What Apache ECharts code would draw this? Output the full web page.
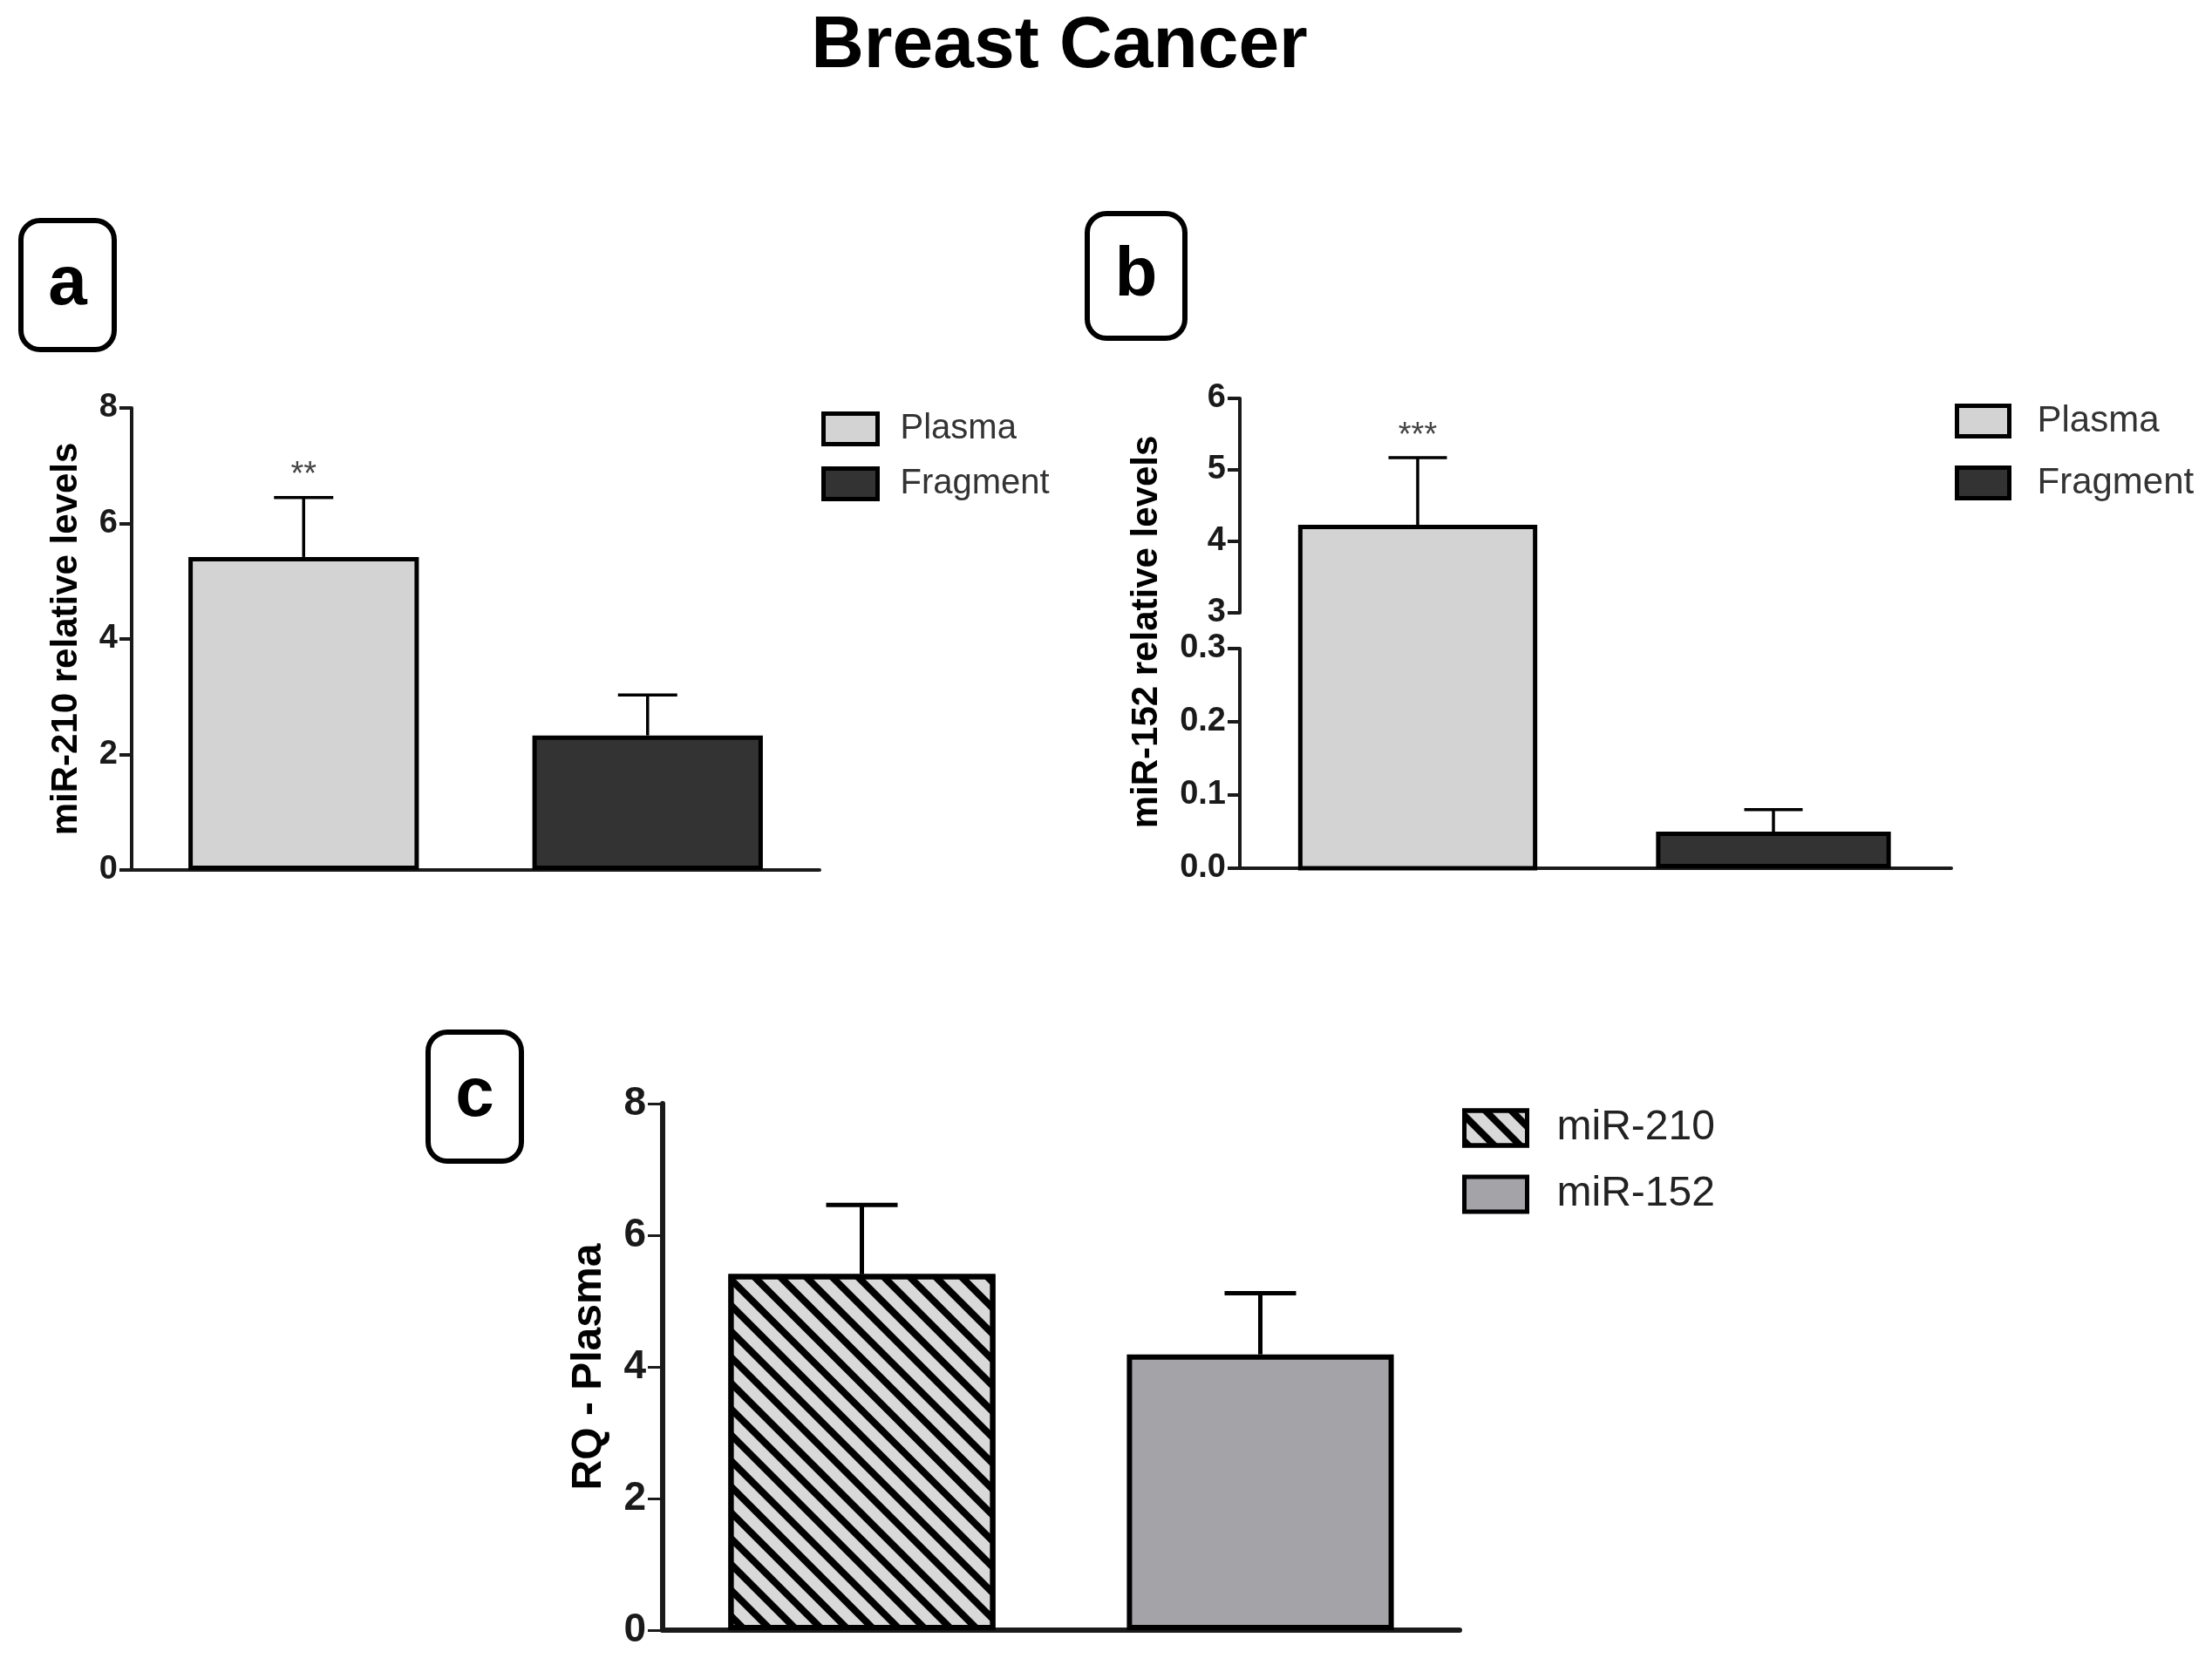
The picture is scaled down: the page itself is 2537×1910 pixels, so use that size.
<!DOCTYPE html>
<html>
<head>
<meta charset="utf-8">
<title>Breast Cancer</title>
<script src="https://cdn.jsdelivr.net/npm/echarts@6/dist/echarts.min.js"></script>
<style>
  html, body { margin: 0; padding: 0; background: #fff; }
  #chart { width: 2537px; height: 1910px; }
</style>
</head>
<body>
<div id="chart"></div>
<script>
'use strict';

// --- panel a: miR-210, plasma vs fragment
var aCategories = ['Plasma', 'Fragment'];
var aMeans = [5.42, 2.33];
var aErrTops = [6.45, 3.03];
var aStars = ['**', ''];
var aTicks = [0, 2, 4, 6, 8];

// --- panel b: miR-152, y axis broken between 0.3 and 3
var bCategories = ['Plasma', 'Fragment'];
var bMeans = [4.2, 0.05];
var bErrTops = [5.17, 0.08];
var bStars = ['***', ''];
var bLowTicks = [0, 0.1, 0.2, 0.3];
var bHighTicks = [3, 4, 5, 6];

// --- panel c: RQ in plasma
var cCategories = ['miR-210', 'miR-152'];
var cMeans = [5.41, 4.19];
var cErrTops = [6.46, 5.12];
var cTicks = [0, 2, 4, 6, 8];

var FONT = '"Liberation Sans", Arial, sans-serif';
var INK = '#1a1a1a';

var seriesColors = {
  'Plasma': '#d3d3d3',
  'Fragment': '#333333',
  'miR-210': '#d9d9d9',
  'miR-152': '#a3a3a8'
};

// diagonal stripes for miR-210
var hatch = {
  symbol: 'rect',
  symbolSize: 1,
  dashArrayX: [1, 0],
  dashArrayY: [8, 13],
  rotation: Math.PI / 4,
  color: '#000'
};

// grid boxes (px)
var gridA = { left: 151, top: 468, width: 789, height: 530 };
var gridBHigh = { left: 1422, top: 457, width: 816, height: 246 };
var gridBLow = { left: 1422, top: 744, width: 816, height: 252 };
var gridC = { left: 760, top: 1266, width: 914, height: 604 };

var chart = echarts.init(document.getElementById('chart'));

function only(values, i) {
  return values.map(function (v, j) { return j === i ? v : '-'; });
}

function valueAxis(gridIndex, ticks, opts) {
  opts = opts || {};
  var lw = opts.lineWidth || 4;
  return {
    type: 'value',
    gridIndex: gridIndex,
    min: ticks[0],
    max: ticks[ticks.length - 1],
    interval: ticks[1] - ticks[0],
    splitLine: { show: false },
    axisLine: { show: true, lineStyle: { color: INK, width: lw } },
    axisTick: { show: true, length: opts.tickLength || 14, lineStyle: { color: INK, width: opts.tickWidth || lw } },
    axisLabel: {
      margin: opts.labelMargin || 16,
      color: INK,
      fontFamily: FONT,
      fontSize: opts.fontSize || 38,
      fontWeight: 'bold',
      formatter: opts.formatter
    },
    name: opts.name || '',
    nameLocation: 'middle',
    nameRotate: 90,
    nameGap: opts.nameGap || 0,
    nameTextStyle: { fontFamily: FONT, fontSize: opts.nameSize || 42, fontWeight: 'bold', color: '#000' }
  };
}

function categoryAxis(gridIndex, cats, opts) {
  opts = opts || {};
  var lw = opts.lineWidth || 4;
  return {
    type: 'category',
    gridIndex: gridIndex,
    data: cats,
    show: opts.show !== false,
    axisLine: { lineStyle: { color: INK, width: lw } },
    axisTick: { alignWithLabel: true, length: opts.tickLength || 16, lineStyle: { color: INK, width: 3 } },
    axisLabel: { show: false }
  };
}

function barSeries(name, axisIdx, values, i, opts) {
  var style = {
    color: seriesColors[name],
    borderColor: '#000',
    borderWidth: opts.borderWidth
  };
  if (opts.decal) style.decal = opts.decal;
  return {
    type: 'bar',
    name: name,
    xAxisIndex: axisIdx,
    yAxisIndex: axisIdx,
    data: only(values, i),
    barWidth: opts.barWidth,
    barGap: '-100%',
    itemStyle: style,
    emphasis: { disabled: true }
  };
}

// bar of the upper segment that runs down through the break to the zero of the lower segment
function brokenBarSeries(name, i) {
  var lowZero = gridBLow.top + gridBLow.height;
  return {
    type: 'custom',
    name: name,
    xAxisIndex: 1,
    yAxisIndex: 1,
    z: 2,
    itemStyle: { color: seriesColors[name] },
    data: [[i, bMeans[i]]],
    renderItem: function (params, api) {
      var x = api.value(0);
      var top = api.coord([x, api.value(1)]);
      var w = api.size([1, 0], [x, api.value(1)])[0] * 0.66;
      return {
        type: 'rect',
        shape: { x: top[0] - w / 2, y: top[1], width: w, height: lowZero - top[1] },
        style: { fill: api.visual('color'), stroke: '#000', lineWidth: 5 }
      };
    }
  };
}

function errorSeries(axisIdx, points, stars, opts) {
  return {
    type: 'custom',
    xAxisIndex: axisIdx,
    yAxisIndex: axisIdx,
    z: 5,
    silent: true,
    data: points,
    renderItem: function (params, api) {
      var x = api.value(0);
      var from = api.coord([x, api.value(1)]);
      var to = api.coord([x, api.value(2)]);
      var half = opts.cap / 2;
      var line = { stroke: '#000', lineWidth: opts.lineWidth };
      return {
        type: 'group',
        children: [
          { type: 'line', shape: { x1: to[0], y1: from[1], x2: to[0], y2: to[1] }, style: line },
          { type: 'line', shape: { x1: to[0] - half, y1: to[1], x2: to[0] + half, y2: to[1] }, style: line },
          {
            type: 'text', x: to[0], y: to[1] - 6,
            style: {
              text: stars[params.dataIndex] || '', fill: '#444', fontFamily: FONT,
              fontSize: 38, align: 'center', verticalAlign: 'bottom'
            }
          }
        ]
      };
    }
  };
}

function legendData(names, borderWidth) {
  return names.map(function (n) {
    var style = { color: seriesColors[n], borderColor: '#000', borderWidth: borderWidth };
    if (n === 'miR-210') style.decal = hatch;
    return { name: n, icon: 'rect', itemStyle: style };
  });
}

function panelLabel(letter, x, y, w, h) {
  return {
    type: 'group',
    x: x,
    y: y,
    children: [
      { type: 'rect', shape: { x: 0, y: 0, width: w, height: h, r: 22 }, style: { fill: '#fff', stroke: '#000', lineWidth: 6 } },
      {
        type: 'text', x: w / 2, y: h / 2,
        style: { text: letter, fill: '#000', fontFamily: FONT, fontWeight: 'bold', fontSize: 80, align: 'center', verticalAlign: 'middle' }
      }
    ]
  };
}

var series = [];

// panel a
aCategories.forEach(function (name, i) {
  series.push(barSeries(name, 0, aMeans, i, { barWidth: '67%', borderWidth: 5 }));
});
series.push(errorSeries(0, aMeans.map(function (v, i) { return [i, v, aErrTops[i]]; }), aStars, { cap: 68, lineWidth: 3.5 }));

// panel b: values above the break live on the upper grid
var bHighPoints = [], bHighStars = [], bLowPoints = [], bLowStars = [];
bCategories.forEach(function (name, i) {
  if (bMeans[i] >= bHighTicks[0]) {
    series.push(brokenBarSeries(name, i));
    bHighPoints.push([i, bMeans[i], bErrTops[i]]);
    bHighStars.push(bStars[i]);
  } else {
    series.push(barSeries(name, 2, bMeans, i, { barWidth: '66%', borderWidth: 5 }));
    bLowPoints.push([i, bMeans[i], bErrTops[i]]);
    bLowStars.push(bStars[i]);
  }
});
series.push(errorSeries(1, bHighPoints, bHighStars, { cap: 67, lineWidth: 3.5 }));
series.push(errorSeries(2, bLowPoints, bLowStars, { cap: 67, lineWidth: 3.5 }));

// panel c
cCategories.forEach(function (name, i) {
  series.push(barSeries(name, 3, cMeans, i, {
    barWidth: '67%', borderWidth: 6, decal: name === 'miR-210' ? hatch : null
  }));
});
series.push(errorSeries(3, cMeans.map(function (v, i) { return [i, v, cErrTops[i]]; }), [], { cap: 82, lineWidth: 5 }));

var legendText = { fontFamily: FONT, color: '#333' };

var option = {
  animation: false,
  backgroundColor: '#fff',
  grid: [gridA, gridBHigh, gridBLow, gridC],
  xAxis: [
    categoryAxis(0, aCategories),
    categoryAxis(1, bCategories, { show: false }),
    categoryAxis(2, bCategories),
    categoryAxis(3, cCategories, { lineWidth: 6, tickLength: 20 })
  ],
  yAxis: [
    valueAxis(0, aTicks, { name: 'miR-210 relative levels', nameGap: 54 }),
    valueAxis(1, bHighTicks),
    valueAxis(2, bLowTicks, { formatter: function (v) { return v.toFixed(1); } }),
    valueAxis(3, cTicks, {
      lineWidth: 6, tickWidth: 3, tickLength: 17, labelMargin: 19, fontSize: 46,
      name: 'RQ - Plasma', nameGap: 60, nameSize: 48
    })
  ],
  legend: [
    {
      left: 942, top: 472, orient: 'vertical', padding: 0, itemWidth: 62, itemHeight: 35, itemGap: 23,
      selectedMode: false, data: legendData(aCategories, 5),
      textStyle: Object.assign({ fontSize: 40, padding: [0, 0, 0, 21] }, legendText)
    },
    {
      left: 2242, top: 462, orient: 'vertical', padding: 0, itemWidth: 60, itemHeight: 35, itemGap: 29,
      selectedMode: false, data: legendData(bCategories, 5),
      textStyle: Object.assign({ fontSize: 42, padding: [0, 0, 0, 27] }, legendText)
    },
    {
      left: 1677, top: 1270, orient: 'vertical', padding: 0, itemWidth: 72, itemHeight: 40, itemGap: 28,
      selectedMode: false, data: legendData(cCategories, 5),
      textStyle: { fontFamily: FONT, fontSize: 48, padding: [0, 0, 0, 29], color: '#222' }
    }
  ],
  graphic: [
    {
      type: 'text', x: 1215, y: 54,
      style: { text: 'Breast Cancer', fill: '#000', fontFamily: FONT, fontWeight: 'bold', fontSize: 84, align: 'center', verticalAlign: 'middle' }
    },
    {
      type: 'text', x: 1315, y: 725, rotation: Math.PI / 2,
      style: { text: 'miR-152 relative levels', fill: '#000', fontFamily: FONT, fontWeight: 'bold', fontSize: 42, align: 'center', verticalAlign: 'middle' }
    },
    panelLabel('a', 24, 253, 107, 148),
    panelLabel('b', 1247, 245, 112, 143),
    panelLabel('c', 491, 1184, 107, 148)
  ],
  series: series
};

chart.setOption(option);

window.addEventListener('resize', function () {
  chart.resize();
});
</script>
</body>
</html>
